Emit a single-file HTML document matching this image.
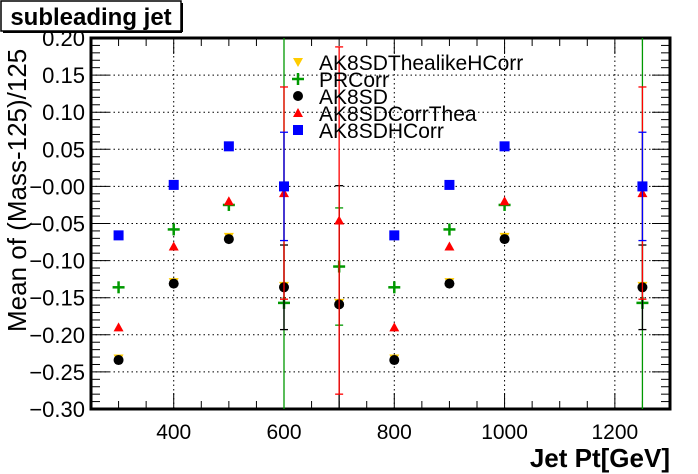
<!DOCTYPE html>
<html><head><meta charset="utf-8"><style>
html,body{margin:0;background:#fff;overflow:hidden;width:698px;height:474px;}
svg{display:block;font-family:"Liberation Sans",sans-serif;}
</style></head><body>
<svg id="c" width="698" height="474"></svg>
<script>
const ptX=[300,400,500,600,700,800,900,1000,1250];
const seriesNames=["AK8SDThealikeHCorr","PRCorr","AK8SD","AK8SDCorrThea","AK8SDHCorr"];
const yellowVals=[-0.232,-0.129,-0.068,-0.134,-0.157,-0.232,-0.129,-0.068,-0.134];
const greenVals=[-0.136,-0.058,-0.025,-0.157,-0.108,-0.136,-0.058,-0.025,-0.157];
const blackVals=[-0.234,-0.131,-0.071,-0.136,-0.159,-0.234,-0.131,-0.071,-0.136];
const redVals=[-0.190,-0.081,-0.020,-0.009,-0.046,-0.190,-0.081,-0.020,-0.009];
const blueVals=[-0.066,0.002,0.054,0.000,null,-0.066,0.002,0.054,0.000];
const yellowErr=[0.003,0.003,0.004,0.004,0.004,0.003,0.003,0.004,0.004];
const greenErr=[0.003,0.003,0.004,0.4,0.079,0.003,0.003,0.004,0.4];
const blackErr=[0.003,0.003,0.004,0.057,0.16,0.003,0.003,0.004,0.057];
const redErr=[0.003,0.003,0.006,0.143,0.234,0.003,0.003,0.006,0.143];
const blueErr=[0.002,0.002,0.004,0.073,0,0.002,0.002,0.004,0.073];
const xTicks=[400,600,800,1000,1200];
const yTicks=[-0.30,-0.25,-0.20,-0.15,-0.10,-0.05,0,0.05,0.10,0.15,0.20];
const yLabels=["−0.30","−0.25","−0.20","−0.15","−0.10","−0.05","−0.00","0.05","0.10","0.15","0.20"];

const L=91,R=670,T=38,B=409,X0=250,X1=1300,Y0=-0.30,Y1=0.20;
const sx=v=>L+(v-X0)/(X1-X0)*(R-L);
const sy=v=>B-(v-Y0)/(Y1-Y0)*(B-T);
const svg=document.getElementById('c');
const NS='http://www.w3.org/2000/svg';
function mk(tag,a,p){const e=document.createElementNS(NS,tag);for(const k in a)e.setAttribute(k,a[k]);(p||svg).appendChild(e);return e;}
const clip=mk('clipPath',{id:'cp'});mk('rect',{x:L,y:T,width:R-L,height:B-T},clip);
xTicks.forEach(v=>{const g=mk('line',{x1:sx(v),x2:sx(v),y1:T,y2:B,stroke:'#000','stroke-dasharray':'1.5,3','stroke-width':1});

});
yTicks.forEach(v=>{const g=mk('line',{x1:L,x2:R,y1:sy(v),y2:sy(v),stroke:'#000','stroke-dasharray':'1.5,3','stroke-width':1});

});
for(let v=250;v<=1300;v+=50){const maj=v%200===0;
 mk('line',{x1:sx(v),x2:sx(v),y1:B,y2:B-(maj?16:8),stroke:'#000'});
 mk('line',{x1:sx(v),x2:sx(v),y1:T,y2:T+(maj?16:8),stroke:'#000'});}
for(let i=0;i<=50;i++){const v=Y0+i*0.01;const maj=i%5===0;
 mk('line',{x1:L,x2:L+(maj?18:9),y1:sy(v),y2:sy(v),stroke:'#000'});
 mk('line',{x1:R,x2:R-(maj?18:9),y1:sy(v),y2:sy(v),stroke:'#000'});}
const fr=mk('rect',{x:L,y:T,width:R-L,height:B-T,fill:'none',stroke:'#000','stroke-width':3});


xTicks.forEach(v=>{const t=mk('text',{x:sx(v),y:439,'font-size':21,'text-anchor':'middle'});t.textContent=v;

});
yTicks.forEach((v,i)=>{const t=mk('text',{x:85,y:sy(v)+8,'font-size':22,'text-anchor':'end'});t.textContent=yLabels[i];

});
const cols=['#ffcc00','#009900','#000','#ff0000','#0000ff'];
const vals=[yellowVals,greenVals,blackVals,redVals,blueVals];
const errs=[yellowErr,greenErr,blackErr,redErr,blueErr];
const marks=['tri-down','plus','circle','tri-up','square'];
function marker(type,x,y,c,p){
 if(type==='tri-down')return mk('polygon',{points:`${x-5},${y-4} ${x+5},${y-4} ${x},${y+5}`,fill:c},p);
 if(type==='tri-up')return mk('polygon',{points:`${x-5},${y+4} ${x+5},${y+4} ${x},${y-5}`,fill:c},p);
 if(type==='circle')return mk('circle',{cx:x,cy:y,r:5,fill:c},p);
 if(type==='square')return mk('rect',{x:x-5,y:y-5,width:10,height:10,fill:c},p);
 const g=mk('g',{},p);mk('line',{x1:x-6,x2:x+6,y1:y,y2:y,stroke:c,'stroke-width':2.5},g);mk('line',{x1:x,x2:x,y1:y-6,y2:y+6,stroke:c,'stroke-width':2.5},g);return g;}
[0,1,2,3,4].forEach(s=>{
 const g=mk('g',{'clip-path':'url(#cp)'});
 
 
 ptX.forEach((x,i)=>{const v=vals[s][i];if(v===null)return;const e=errs[s][i];
  const px=sx(x),py=sy(v);
  if(e>0.008){mk('line',{x1:px,x2:px,y1:sy(v+e),y2:sy(v-e),stroke:cols[s],'stroke-width':1.3},g);
   mk('line',{x1:px-4,x2:px+4,y1:sy(v+e),y2:sy(v+e),stroke:cols[s],'stroke-width':1.3},g);
   mk('line',{x1:px-4,x2:px+4,y1:sy(v-e),y2:sy(v-e),stroke:cols[s],'stroke-width':1.3},g);}
  const m=marker(marks[s],px,py,cols[s],g);
  
  
 });
});
const lg=mk('g',{});


const ly=[63,80,97,114,131];
seriesNames.forEach((n,i)=>{const e=mk('g',{},lg);
 
 
 marker(marks[i],298,ly[i]-1,cols[i],e);
 const t=mk('text',{x:319,y:ly[i]+7,'font-size':21},e);t.textContent=n;});
const yt=mk('text',{transform:'translate(26,332) rotate(-90)','font-size':26});yt.textContent='Mean of (Mass-125)/125';


const xt=mk('text',{x:670,y:467,'font-size':26,'font-weight':'bold','text-anchor':'end'});xt.textContent='Jet Pt[GeV]';


const tb=mk('rect',{x:1,y:1,width:180,height:30,fill:'#fff',stroke:'#000','stroke-width':1.5});


mk('line',{x1:3,x2:182,y1:32,y2:32,stroke:'#000','stroke-width':2});
mk('line',{x1:182,x2:182,y1:3,y2:32,stroke:'#000','stroke-width':2});
const tt=mk('text',{x:91,y:25,'font-size':24,'font-weight':'bold','text-anchor':'middle'});tt.textContent='subleading jet';


</script>
</body></html>
